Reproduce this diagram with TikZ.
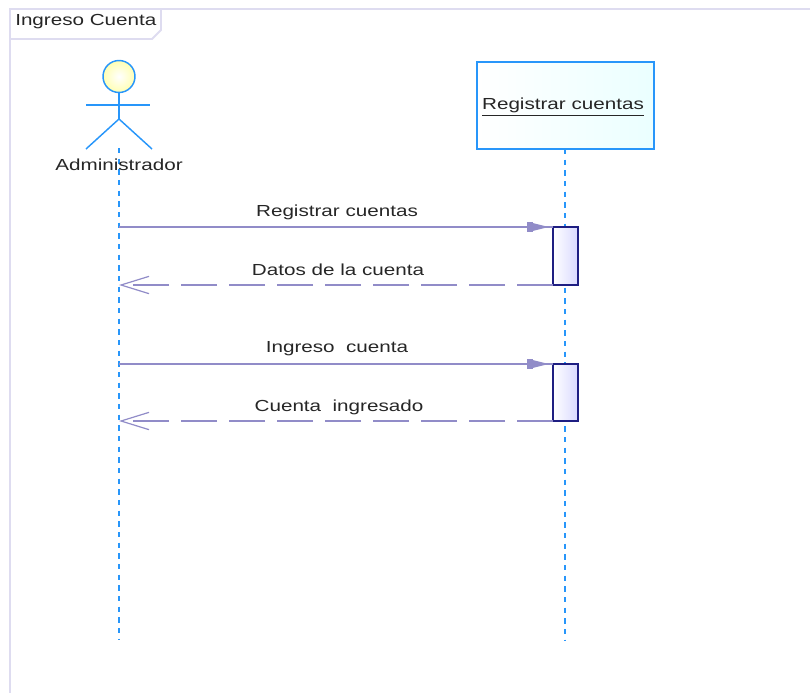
\documentclass[tikz,border=0pt]{standalone}
\usepackage{fontspec}
\setmainfont{Liberation Sans}
\usetikzlibrary{arrows.meta}
\definecolor{framecol}{RGB}{222,220,240}
\definecolor{lifecol}{RGB}{40,150,250}
\definecolor{msgcol}{RGB}{145,140,200}
\definecolor{actcol}{RGB}{30,30,130}
\newcommand{\wide}[1]{\scalebox{1.29}[1]{#1}}
\tikzset{
  txt/.style={font=\fontsize{12}{14}\selectfont,inner sep=0pt,text=black!85},
  lifeline/.style={draw=lifecol,line width=1.5pt,dash pattern=on 4pt off 4pt},
  actorline/.style={lifecol,line width=1.1pt},
  msgline/.style={msgcol,line width=1.2pt},
  msgdash/.style={msgcol,line width=1.2pt,dash pattern=on 27pt off 9pt},
  filledtip/.style={-{Rectangle[length=4.5pt,width=8pt]Triangle[length=12pt,width=5.5pt]},shorten >=3pt},
  opentip/.style={-{Straight Barb[length=21pt,width=13pt,line width=0.9pt]}},
  activation/.style={draw=actcol,line width=1.1pt,left color=white,right color=blue!15,minimum width=18.75pt,minimum height=#1,inner sep=0pt,outer sep=0pt},
}
\begin{document}
\begin{tikzpicture}[x=0.75pt,y=-0.75pt]
      \useasboundingbox (0,0) rectangle (810,693);
      % frame
      \draw[framecol,line width=1.4pt] (810,9) -- (10,9) -- (10,693);
      \draw[framecol,line width=1.4pt] (10,39) -- (152,39) -- (161,30) -- (161,9);
      \node[txt,anchor=west] (title) at (15,21.5) {\wide{Ingreso Cuenta}};
      % actor
      \node[circle,draw=lifecol,line width=1.1pt,inner color=white,outer color=yellow!30,minimum size=24pt,inner sep=0pt] (head) at (119,76.5) {};
      \coordinate (hip) at (119,119);
      \coordinate (armL) at (86,105);
      \coordinate (armR) at (150,105);
      \coordinate (legL) at (86,149);
      \coordinate (legR) at (152,149);
      \draw[actorline] (head) -- (hip);
      \draw[actorline] (armL) -- (armR);
      \draw[actorline] (legL) -- (hip) -- (legR);
      % lifelines
      \node[draw=lifecol,line width=1.4pt,left color=white,right color=cyan!8,minimum width=132.75pt,minimum height=65.25pt,inner sep=0pt,outer sep=0pt] (obj) at (565.2,105.5) {};
      \node[txt] (objlabel) at (563,107) {\wide{\underline{Registrar cuentas}}};
      \coordinate (admtop) at (119,148);
      \coordinate (admend) at (119,640);
      \coordinate (objend) at (565.2,640);
      \draw[lifeline] (admtop) -- (admend);
      \draw[lifeline] (obj.south) -- (objend);
      \node[txt] (adm) at (119,165) {\wide{Administrador}};
      % activations
      \node[activation=43.5pt] (act1) at (565.5,256) {};
      \node[activation=42.75pt] (act2) at (565.5,392.5) {};
      % messages
      \coordinate (m1) at (119,227);
      \coordinate (m2) at (119,285);
      \coordinate (m3) at (119,364);
      \coordinate (m4) at (119,421);
      \draw[msgline] (m1) -- (act1.north west);
      \draw[msgline,filledtip] (m1) -- (act1.north west);
      \draw[msgdash,opentip] (act1.south west) -- (m2);
      \draw[msgline] (m3) -- (act2.north west);
      \draw[msgline,filledtip] (m3) -- (act2.north west);
      \draw[msgdash,opentip] (act2.south west) -- (m4);
      % labels
      \node[txt] (l1) at (337,212.5) {\wide{Registrar cuentas}};
      \node[txt] (l2) at (338,270) {\wide{Datos de la cuenta}};
      \node[txt] (l3) at (337,349) {\wide{Ingreso\ \ cuenta}};
      \node[txt] (l4) at (339,407) {\wide{Cuenta\ \ ingresado}};
\end{tikzpicture}
\end{document}
